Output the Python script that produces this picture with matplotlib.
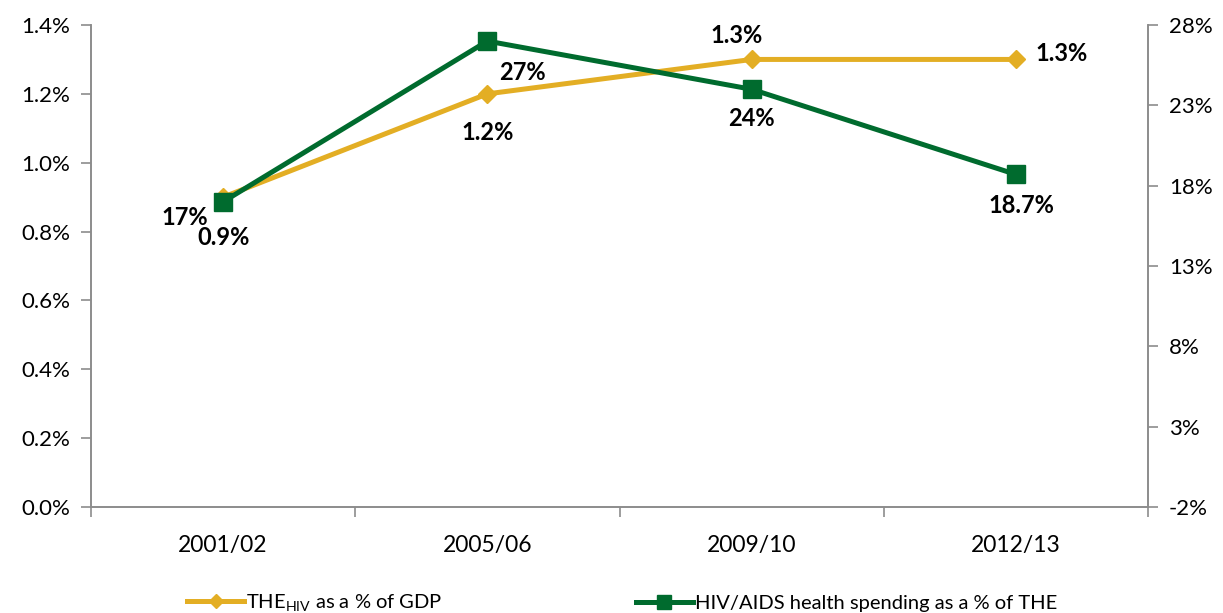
import matplotlib
matplotlib.use("Agg")
import matplotlib.pyplot as plt
from matplotlib.ticker import FixedLocator, FuncFormatter
from matplotlib.lines import Line2D

plt.rcParams['font.family'] = ['Lato', 'DejaVu Sans']
plt.rcParams['mathtext.fontset'] = 'custom'
plt.rcParams['mathtext.rm'] = 'Lato'

years = ['2001/02', '2005/06', '2009/10', '2012/13']
the_hiv_gdp = [0.9, 1.2, 1.3, 1.3]          # % of GDP, left axis
hiv_share_the = [17, 27, 24, 18.7]           # % of THE, right axis
gdp_labels = ['0.9%', '1.2%', '1.3%', '1.3%']
the_labels = ['17%', '27%', '24%', '18.7%']

gold = '#E3AE24'
green = '#006B2E'
axis_grey = '#8C8C8C'

fig = plt.figure(figsize=(12.23, 6.13), dpi=100)
ax = fig.add_axes([0.0744, 0.1729, 0.8643, 0.7863])
ax2 = ax.twinx()

x = list(range(len(years)))
ax.plot(x, the_hiv_gdp, color=gold, lw=3.6, marker='D', ms=9, zorder=3)
ax2.plot(x, hiv_share_the, color=green, lw=3.6, marker='s', ms=13.5, zorder=3)

ax.set_xlim(-0.5, len(years) - 0.5)
ax.set_ylim(0, 1.4)
ax2.set_ylim(-2, 28)

ax.set_yticks([i * 0.2 for i in range(8)])
ax.yaxis.set_major_formatter(FuncFormatter(lambda v, p: f'{v:.1f}%'))
ax2.set_yticks(range(-2, 29, 5))
ax2.yaxis.set_major_formatter(FuncFormatter(lambda v, p: f'{v:.0f}%'))

ax.set_xticks(x)
ax.set_xticklabels(years)
ax.xaxis.set_minor_locator(FixedLocator([i - 0.5 for i in range(len(years) + 1)]))
ax.tick_params(axis='x', which='major', length=0, pad=20, labelsize=16.5)
ax.tick_params(axis='x', which='minor', length=7, width=1.2, color=axis_grey, direction='out')
ax.tick_params(axis='y', length=7, width=1.2, color=axis_grey, labelsize=16, pad=8)
ax2.tick_params(axis='y', length=7, width=1.2, color=axis_grey, labelsize=16, pad=8)

for a in (ax, ax2):
    a.spines['top'].set_visible(False)
    for s in ('left', 'right', 'bottom'):
        a.spines[s].set_color(axis_grey)
        a.spines[s].set_linewidth(1.2)

# value labels, offsets in pixels from each marker
gdp_offsets = [(0, -40), (0, -39), (-15, 24), (46, 6)]
the_offsets = [(-38, -16), (35, -31), (0, -29), (6, -31)]
for i in x:
    ax.annotate(gdp_labels[i], (i, the_hiv_gdp[i]), xytext=gdp_offsets[i],
                textcoords='offset pixels', ha='center', va='center',
                fontsize=17, fontweight='bold', zorder=5)
    ax2.annotate(the_labels[i], (i, hiv_share_the[i]), xytext=the_offsets[i],
                 textcoords='offset pixels', ha='center', va='center',
                 fontsize=17, fontweight='bold', zorder=5)

h1 = Line2D([], [], color=gold, lw=3.6, marker='D', ms=7)
h2 = Line2D([], [], color=green, lw=3.6, marker='s', ms=10)
fig.legend([h1], [r'THE$_{\mathrm{HIV}}$ as a % of GDP'], loc='center left',
           bbox_to_anchor=(0.145, 0.016), frameon=False, fontsize=14.5,
           handlelength=2.8, handletextpad=0.1, borderpad=0)
fig.legend([h2], ['HIV/AIDS health spending as a % of THE'], loc='center left',
           bbox_to_anchor=(0.512, 0.016), frameon=False, fontsize=14.5,
           handlelength=2.8, handletextpad=0.1, borderpad=0)

fig.savefig('out.png', dpi=100)
